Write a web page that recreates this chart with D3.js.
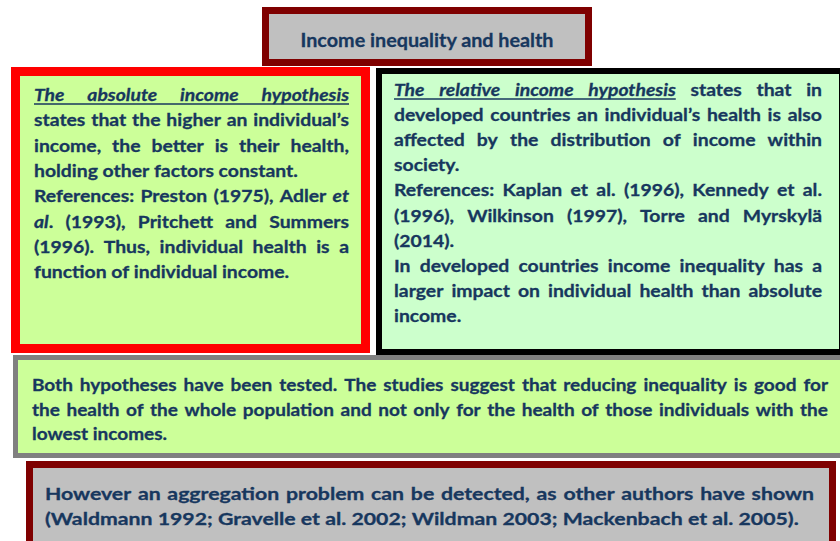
<!DOCTYPE html>
<html><head><meta charset="utf-8">
<script src="https://cdn.jsdelivr.net/npm/d3@7"></script>
<style>body{margin:0;background:#fff}svg{display:block}</style>
</head><body><svg id="c" width="840" height="541"></svg>
<script>
// ---- content ----
const titleText = "Income inequality and health";
// [..] = italic + underlined, _.._ = italic ; each inner array is a paragraph
const absoluteParas = [[
  "[The absolute income hypothesis]",
  "states that the higher an individual’s",
  "income, the better is their health,",
  "holding other factors constant."
],[
  "References: Preston (1975), Adler _et_",
  "_al_. (1993), Pritchett and Summers",
  "(1996). Thus, individual health is a",
  "function of individual income."
]];
const relativeParas = [[
  "[The relative income hypothesis] states that in",
  "developed countries an individual’s health is also",
  "affected by the distribution of income within",
  "society."
],[
  "References: Kaplan et al. (1996), Kennedy et al.",
  "(1996), Wilkinson (1997), Torre and Myrskylä",
  "(2014)."
],[
  "In developed countries income inequality has a",
  "larger impact on individual health than absolute",
  "income."
]];
const testedParas = [[
  "Both hypotheses have been tested. The studies suggest that reducing inequality is good for",
  "the health of the whole population and not only for the health of those individuals with the",
  "lowest incomes."
]];
const aggregationParas = [[
  "However an aggregation problem can be detected, as other authors have shown",
  "(Waldmann 1992; Gravelle et al. 2002; Wildman 2003; Mackenbach et al. 2005)."
]];

// ---- drawing ----
const TXT = "#17375e";
const FONT = "Lato, 'Open Sans', sans-serif";
const svg = d3.select("#c");

function box(x0, y0, x1, y1, sw, stroke, fill) {
  svg.append("rect")
    .attr("x", x0 + sw / 2).attr("y", y0 + sw / 2)
    .attr("width", x1 - x0 - sw).attr("height", y1 - y0 - sw)
    .attr("fill", fill).attr("stroke", stroke).attr("stroke-width", sw);
}

function parseLine(str) {
  const words = [];
  let it = false, ul = false, cur = [], buf = "";
  const flush = () => { if (buf) { cur.push({ t: buf, it: it || ul, ul }); buf = ""; } };
  for (const ch of str) {
    if (ch === "[") { flush(); ul = true; }
    else if (ch === "]") { flush(); ul = false; }
    else if (ch === "_") { flush(); it = !it; }
    else if (ch === " ") { flush(); if (cur.length) words.push(cur); cur = []; }
    else buf += ch;
  }
  flush(); if (cur.length) words.push(cur);
  return words;
}

function block(paras, x0, x1, yFirst, step, size, hScale) {
  const lines = [];
  paras.forEach(p => p.forEach((l, i) => lines.push({ text: l, last: i === p.length - 1 })));
  const y = d3.scaleLinear().domain([0, 1]).range([yFirst, yFirst + step]);
  const g = svg.append("g").attr("font-family", FONT).attr("font-size", size)
    .attr("font-weight", 700).attr("fill", TXT)
    .attr("stroke", TXT).attr("stroke-width", 0.3)
    .style("font-variant-numeric", "tabular-nums");
  const probe = g.append("text").text("x x");
  const probe2 = g.append("text").text("xx");
  const space = probe.node().getComputedTextLength() - probe2.node().getComputedTextLength();
  probe.remove(); probe2.remove();
  lines.forEach(ln => {
    ln.words = parseLine(ln.text).map(segs => {
      const t = g.append("text");
      segs.forEach(s => t.append("tspan").text(s.t).attr("font-style", s.it ? "italic" : null));
      return { node: t, ul: segs.some(s => s.ul), w: t.node().getComputedTextLength() };
    });
  });
  const target = x1 - x0;
  lines.forEach((ln, i) => {
    const n = ln.words.length;
    const W = d3.sum(ln.words, d => d.w) + space * (n - 1);
    const f = Math.min(hScale, target / W);
    const ww = d3.sum(ln.words, d => d.w) * f;
    const gap = (ln.last || n < 2) ? space * f : (target - ww) / (n - 1);
    let x = x0;
    ln.words.forEach(wd => {
      wd.node.attr("transform", `translate(${x},${y(i)}) scale(${f},1)`);
      wd.x0 = x; x += wd.w * f; wd.x1 = x; x += gap;
    });
    const u = ln.words.filter(d => d.ul);
    if (u.length) {
      g.append("line").attr("x1", u[0].x0).attr("x2", u[u.length - 1].x1)
        .attr("y1", y(i) + 3).attr("y2", y(i) + 3)
        .attr("stroke", TXT).attr("stroke-width", 1.5);
    }
  });
}

// boxes
box(262, 7, 592, 66, 7, "#7f0000", "#c0c0c0");
box(11, 67, 370, 353, 9, "#ff0000", "#ccff99");
box(376, 68, 845, 355, 6, "#000000", "#ccffcc");
box(13, 355, 845, 458, 5, "#808080", "#ccff99");
box(26, 461, 836, 548, 7, "#7f0000", "#c0c0c0");

// title
svg.append("text").attr("x", 427).attr("y", 47)
  .attr("text-anchor", "middle").attr("font-family", FONT)
  .attr("font-size", 19.5).attr("font-weight", 700).attr("fill", TXT)
  .attr("stroke", TXT).attr("stroke-width", 0.3)
  .attr("textLength", 253).attr("lengthAdjust", "spacingAndGlyphs")
  .text(titleText);

block(absoluteParas, 34, 349, 101, 25.3, 17.6, 1.1);
block(relativeParas, 394, 822, 96, 25.1, 17.6, 1.1);
block(testedParas, 32, 828, 391, 24.5, 17.6, 1.08);
block(aggregationParas, 45, 814, 500, 25, 17, 1.25);
</script></body></html>
